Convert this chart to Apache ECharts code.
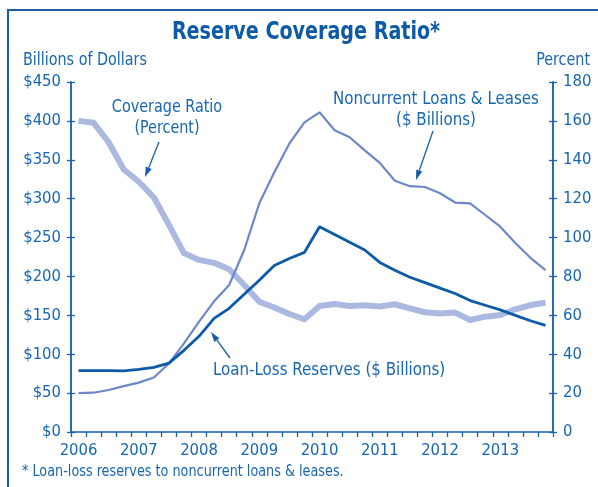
<!DOCTYPE html>
<html>
<head>
<meta charset="utf-8">
<script src="https://cdn.jsdelivr.net/npm/echarts@6/dist/echarts.min.js"></script>
<style>
html,body{margin:0;padding:0;background:#fff;}
#chart{width:598px;height:487px;}
</style>
</head>
<body>
<div id="chart"></div>
<script>
// ---- data ----
var years = ['2006','2007','2008','2009','2010','2011','2012','2013'];
var quarters = [];
years.forEach(function(y){ for (var q=1;q<=4;q++) quarters.push(y+'Q'+q); });

var loanLossReserves = [79,79,79,78.5, 80.5,83,88.5,105, 123,146,159,177, 195,214,223,231,
                        264,254,244,234, 218,208,199,192, 185,178,169,163, 157,150,143,137];
var noncurrentLoans  = [50,50.5,54,59, 63.5,70,88,114, 142,168,189,234, 294,334,371,398,
                        411,388,379,362, 346,323,316,315, 307,295,294,279, 264,243,224,208];
var coverageRatio    = [160,159,149,135, 128.7,120.7,106.5,92, 88.5,87,83.7,75.6, 67,64,60.7,58,
                        64.8,65.8,64.8,65.2, 64.5,65.7,63.6,61.6, 61,61.4,57.6,59.3, 60.2,63.1,65.3,66.5];
var leftTicks  = {min:0, max:450, interval:50};
var rightTicks = {min:0, max:180, interval:20};

var FONT = '"Liberation Sans Narrow","DejaVu Sans Condensed","Liberation Sans",sans-serif';
var TXT = '#1766b3';
var AX = '#1a62ad';

function arrow(x1,y1,x2,y2){
  var dx=x2-x1, dy=y2-y1, L=Math.sqrt(dx*dx+dy*dy); dx/=L; dy/=L;
  var hl=10, hw=3.2;
  var bx=x2-dx*hl, by=y2-dy*hl;
  return [
    {type:'line', shape:{x1:x1,y1:y1,x2:bx,y2:by}, style:{stroke:'#1a5ea8', lineWidth:1.3}, z:10},
    {type:'polygon', shape:{points:[[x2,y2],[bx-dy*hw,by+dx*hw],[bx+dy*hw,by-dx*hw]]}, style:{fill:'#1a5ea8'}, z:10}
  ];
}
function txt(x,y,s,size,align,sx,bold,color){
  return {type:'text', x:x, y:y, scaleX:sx, z:10,
    style:{text:s, font:(bold?'bold ':'')+size+'px '+FONT, fill:color||TXT, align:align, verticalAlign:'middle', lineHeight:Math.round(size*1.22)}};
}

var chart = echarts.init(document.getElementById('chart'), null, {renderer:'canvas'});
var graphics = [
  {type:'rect', shape:{x:8,y:10,width:700,height:600}, style:{fill:'none', stroke:'#1a5ea8', lineWidth:2}, z:0},
  txt(306,32,'Reserve Coverage Ratio*',25,'center',0.85,true,'#0d5aa7'),
  txt(23,60,'Billions of Dollars',18,'left',0.885),
  txt(590,60,'Percent',18,'right',0.885),
  txt(22,472,'* Loan-loss reserves to noncurrent loans & leases.',15,'left',0.95),
  txt(167,118,'Coverage Ratio\n(Percent)',17,'center',0.94),
  txt(436,110.5,'Noncurrent Loans & Leases\n($ Billions)',17,'center',0.985),
  txt(213,371,'Loan-Loss Reserves ($ Billions)',17,'left',0.985)
].concat(arrow(159,142,145,177)).concat(arrow(433,131,416,180)).concat(arrow(230,358,211,332));

var yBase = function(o, pos, fmt, showLabel, inside){
  return {
    type:'value', position:pos, min:o.min, max:o.max, interval:o.interval,
    axisLine:{show:true, lineStyle:{color:AX, width:1.5}},
    axisTick:{show:true, inside:inside, length:4, lineStyle:{color:AX, width:1.3}},
    axisLabel:{show:showLabel, formatter:fmt, color:TXT, fontFamily:FONT, fontSize:16.5, margin:10},
    splitLine:{show:false}
  };
};

chart.setOption({
  animation:false,
  graphic:graphics,
  grid:{left:71, right:45, top:82, bottom:55, containLabel:false},
  xAxis:{
    type:'category', data:quarters, boundaryGap:true,
    axisLine:{lineStyle:{color:AX, width:1.5}},
    axisTick:{show:true, interval:0, length:5, lineStyle:{color:AX, width:1.3}},
    axisLabel:{interval:3, formatter:function(v){return v.slice(0,4);}, color:TXT, fontFamily:FONT, fontSize:16.5, margin:10}
  },
  yAxis:[
    yBase(leftTicks,'left',function(v){return '$'+v;},true,false),
    yBase(rightTicks,'right',function(v){return v;},true,false),
    yBase(leftTicks,'left',null,false,true),
    yBase(rightTicks,'right',null,false,true)
  ],
  series:[
    {type:'line', name:'Coverage Ratio', yAxisIndex:1, data:coverageRatio, symbol:'none',
     lineStyle:{color:'#abb9e0', width:6, join:'round'}, z:2},
    {type:'line', name:'Noncurrent Loans & Leases', yAxisIndex:0, data:noncurrentLoans, symbol:'none',
     lineStyle:{color:'#6e87c6', width:2.2}, z:3},
    {type:'line', name:'Loan-Loss Reserves', yAxisIndex:0, data:loanLossReserves, symbol:'none',
     lineStyle:{color:'#0d5aa7', width:2.8}, z:4}
  ]
});
</script>
</body>
</html>
